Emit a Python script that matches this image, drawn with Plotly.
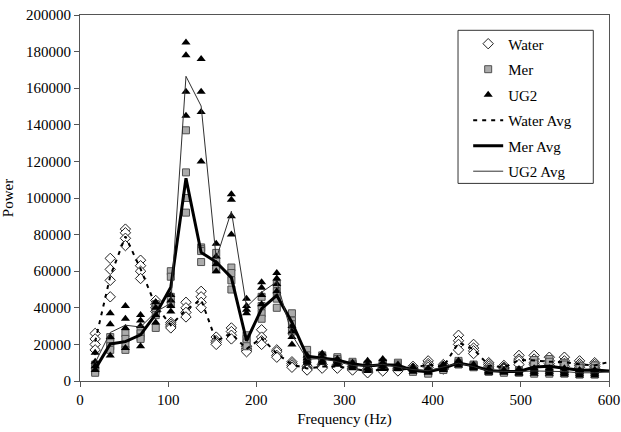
import plotly.graph_objects as go

# Frequency bins (Hz)
freq = [17.2, 34.3, 51.5, 68.7, 85.9, 103.0, 120.2, 137.4, 154.5, 171.7,
        188.9, 206.0, 223.2, 240.4, 257.6, 274.7, 291.9, 309.1, 326.2, 343.4,
        360.6, 377.7, 394.9, 412.1, 429.3, 446.4, 463.6, 480.8, 497.9, 515.1,
        532.3, 549.4, 566.6, 583.8, 601.0]

# Replicate power values per frequency bin
water = [
    [26000, 23000, 20000, 17000], [67000, 61000, 55000, 46000], [83000, 81000, 78000, 74000],
    [66000, 63000, 60000, 56000], [44000, 42000, 40000, 38000], [32000, 31000, 30000, 29000],
    [43000, 40000, 37500, 35000], [49000, 46000, 43000, 40000], [24000, 22000, 21000, 20000],
    [29000, 27000, 25000, 23000], [19000, 18000, 17000, 16000], [28000, 24000, 22000, 20000],
    [17000, 16000, 14000, 13000], [10500, 9500, 8500, 7500], [8000, 7000, 6500, 6000],
    [9000, 8000, 7500, 7000], [9000, 8000, 7500, 7000], [8000, 7000, 6500, 6000],
    [6500, 5500, 5000, 4500], [7000, 6500, 6000, 5500], [7000, 6500, 6000, 5500],
    [8000, 7000, 6500, 6000], [11000, 9500, 8500, 7500], [9000, 8000, 7000, 6500],
    [25000, 22000, 20000, 17000], [20000, 18000, 16500, 15000], [10000, 9000, 8000, 7000],
    [8500, 7500, 7000, 6500], [14000, 12000, 11000, 9000], [14000, 12000, 10000, 9000],
    [13000, 11000, 9500, 8500], [13000, 11000, 9500, 8000], [11000, 9500, 8500, 7500],
    [10000, 9000, 8000, 7000], [12000, 11000, 10000, 9000],
]
mer = [
    [9000, 7000, 5500, 4500], [24000, 21000, 19000, 17000], [26000, 23000, 20000, 17000],
    [28000, 26000, 24000, 23000], [42000, 39000, 36000, 29000], [60000, 57000, 46000, 42000],
    [137000, 114000, 100000, 92000], [73000, 72000, 71000, 65000], [70000, 66000, 63000, 61000],
    [62000, 59000, 55000, 50000], [25000, 23000, 21000, 19000], [46000, 41000, 37000, 34000],
    [53000, 49000, 45000, 40000], [37000, 33000, 31000, 27000], [17000, 14000, 12000, 11000],
    [14000, 13000, 12000, 11000], [13000, 12000, 11000, 10000], [10500, 9500, 9000, 8500],
    [9000, 8500, 8000, 7500], [10000, 9000, 8500, 8000], [10000, 9000, 8000, 7500],
    [6500, 6000, 5500, 5000], [6500, 5500, 4500, 4000], [8000, 7000, 6500, 6000],
    [11000, 10000, 9500, 9000], [9000, 8500, 8000, 7500], [6500, 6000, 5500, 5000],
    [6000, 5500, 5000, 4500], [6000, 5500, 5000, 4500], [11500, 9500, 5500, 4000],
    [12000, 10500, 5500, 4000], [10000, 9000, 5000, 4000], [8000, 7000, 5000, 3500],
    [8500, 7000, 5000, 3500], [7000, 6000, 5000, 4000],
]
ug2 = [
    [15500, 10500, 8000, 6000], [37000, 31000, 24000, 14000], [41000, 34000, 29000, 18000],
    [36000, 33000, 30000, 19000], [43000, 40000, 36000, 32000], [47000, 44000, 41000, 38000],
    [185000, 178000, 158000, 145000], [176000, 158000, 147000, 120000], [75000, 68000, 64000, 60000],
    [102000, 99000, 90000, 80000], [45000, 41000, 39000, 37000], [54000, 51000, 47000, 42000],
    [59000, 56000, 53000, 49000], [30000, 27000, 24000, 20000], [14000, 12500, 11000, 10000],
    [15000, 13000, 11000, 10000], [12000, 11000, 10000, 9000], [10000, 9000, 8000, 7000],
    [11000, 9000, 7000, 5500], [12000, 10000, 8000, 6500], [9000, 8000, 7000, 6500],
    [7500, 6500, 6000, 5000], [7000, 6000, 5000, 4500], [9000, 8000, 7000, 6000],
    [11000, 10000, 9500, 8500], [9000, 8000, 7500, 7000], [6500, 5500, 5000, 4500],
    [6000, 5500, 5000, 4500], [6500, 5500, 4500, 4000], [7000, 6000, 5000, 4000],
    [7000, 6000, 5000, 4000], [7000, 5500, 4500, 3500], [6000, 5000, 4000, 3000],
    [6000, 5000, 4000, 3000], [6500, 5500, 4500, 3500],
]

x_ticks = [0, 100, 200, 300, 400, 500, 600]
y_ticks = [0, 20000, 40000, 60000, 80000, 100000, 120000, 140000, 160000, 180000, 200000]

N_MARK = 34  # bins shown as markers inside the 0-600 Hz window


def flatten(rows):
    xs, ys = [], []
    for f, row in zip(freq[:N_MARK], rows[:N_MARK]):
        for v in row:
            xs.append(f)
            ys.append(v)
    return xs, ys


def mean(rows):
    return [sum(r) / len(r) for r in rows]


FONT = "Liberation Serif"
fig = go.Figure()

wx, wy = flatten(water)
mx, my = flatten(mer)
ux, uy = flatten(ug2)

fig.add_trace(go.Scatter(x=wx, y=wy, mode="markers", name="Water", legendgroup="a",
                         marker=dict(symbol="diamond", size=8, color="white",
                                     line=dict(color="#202020", width=1))))
fig.add_trace(go.Scatter(x=mx, y=my, mode="markers", name="Mer", legendgroup="b",
                         marker=dict(symbol="square", size=7, color="#ababab",
                                     line=dict(color="#505050", width=1))))
fig.add_trace(go.Scatter(x=ux, y=uy, mode="markers", name="UG2", legendgroup="c",
                         marker=dict(symbol="triangle-up", size=8, color="black",
                                     line=dict(color="black", width=0))))
fig.add_trace(go.Scatter(x=freq, y=mean(water), mode="lines", name="Water Avg", legendgroup="d",
                         line=dict(color="black", width=2, dash="4px,5px")))
fig.add_trace(go.Scatter(x=freq, y=mean(mer), mode="lines", name="Mer Avg", legendgroup="e",
                         line=dict(color="black", width=3)))
fig.add_trace(go.Scatter(x=freq, y=mean(ug2), mode="lines", name="UG2 Avg", legendgroup="f",
                         line=dict(color="#303030", width=1)))

axis_common = dict(showline=True, linecolor="#555555", linewidth=1, mirror=True,
                   ticks="outside", ticklen=5, tickcolor="#555555", showgrid=False,
                   zeroline=False, ticklabeloverflow="allow",
                   tickfont=dict(family=FONT, size=15, color="black"))

fig.update_xaxes(range=[0, 600], tickvals=x_ticks, ticktext=[str(v) for v in x_ticks],
                 title=dict(text="Frequency (Hz)", font=dict(family=FONT, size=15, color="black"),
                            standoff=6),
                 **axis_common)
fig.update_yaxes(range=[0, 200000], tickvals=y_ticks, ticktext=[str(v) for v in y_ticks],
                 title=dict(text="Power", font=dict(family=FONT, size=15, color="black"),
                            standoff=8),
                 **axis_common)

# legend frame (paper coords)
fig.add_shape(type="rect", xref="paper", yref="paper", x0=0.7146, x1=0.9703, y0=0.5399, y1=0.9582,
              line=dict(color="#333333", width=1), fillcolor="white", layer="below")

fig.update_layout(
    width=621, height=432,
    margin=dict(l=80, r=12, t=15, b=51, autoexpand=False),
    paper_bgcolor="white", plot_bgcolor="white",
    showlegend=True,
    legend=dict(x=0.7338, y=0.966, xanchor="left", yanchor="top", bgcolor="rgba(0,0,0,0)",
                borderwidth=0, tracegroupgap=3, font=dict(family=FONT, size=15, color="black")),
    font=dict(family=FONT, size=15, color="black"),
)

fig.write_html("out.html", config={"displayModeBar": False},
               post_script="document.body.style.margin='0';")
